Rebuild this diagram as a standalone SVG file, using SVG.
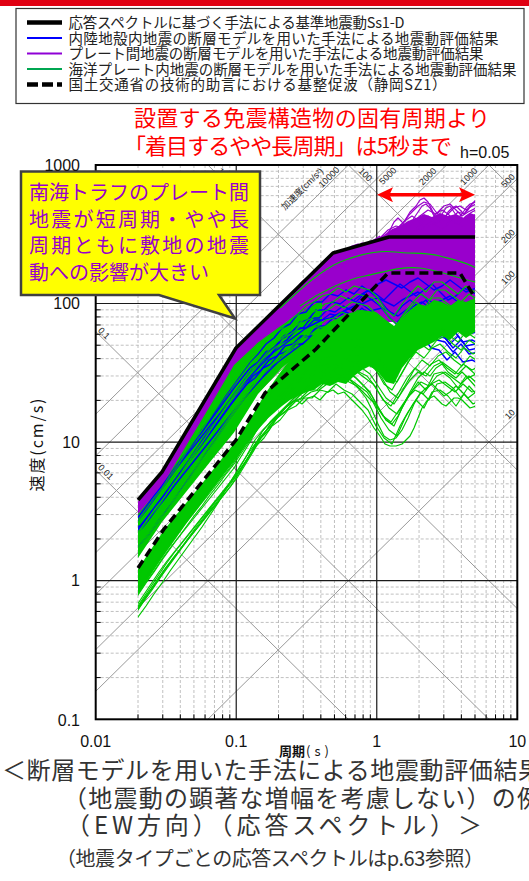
<svg xmlns="http://www.w3.org/2000/svg" width="529" height="881" viewBox="0 0 529 881">
<style>
.s{font-family:"Liberation Sans","Noto Sans CJK JP",sans-serif}
.j{font-family:"Noto Sans CJK JP","Liberation Sans",sans-serif}
.mn{fill:none;stroke:#b0b0b0;stroke-width:0.8;stroke-dasharray:3 2}
.mj{fill:none;stroke:#1a1a1a;stroke-width:1.2}
.tk{fill:none;stroke:#000;stroke-width:1}
.dg{fill:none;stroke:#999;stroke-width:1}
.lb{font-size:9px;fill:#222}
.pu{fill:none;stroke:#9900cc;stroke-width:1.2;stroke-linejoin:round}
.bu{fill:none;stroke:#0000ff;stroke-width:1.4;stroke-linejoin:round}
.gr{fill:none;stroke:#00c800;stroke-width:1.2;stroke-linejoin:round}
.num{font-size:16px;fill:#111}
.leg{font-size:14.5px;fill:#222}
.cap{fill:#333}
</style>
<defs>
<clipPath id="dc"><rect x="138" y="150" width="337" height="570"/></clipPath>
<marker id="ah" viewBox="0 0 16 15" refX="7" refY="7.5" markerWidth="16" markerHeight="15" markerUnits="userSpaceOnUse" orient="auto-start-reverse"><path d="M0,0 L16,7.5 L0,15 L3.5,7.5 Z" fill="#ff0000"/></marker>
<path id="U1" d="M122,556 L130,546 138,536 146,525 154,514 162,504 170,492 178,481 186,469 194,457 202,446 210,434 218,422 226,410 234,399 242,388 250,377 258,368 266,358 274,350 282,344 290,336 298,330 306,322 314,318 322,312 330,310 338,304 346,308 354,302 362,304 370,306 378,314 386,326 394,332 402,320 410,310 418,302 426,308 434,298 442,298 450,304 458,310 466,302 475,308 483,306 491,310"/>
<path id="B1" d="M122,552 L130,542 138,532 146,522 154,511 162,500 170,489 178,477 186,466 194,454 202,442 210,431 218,419 226,407 234,396 242,385 250,374 258,366 266,356 274,350 282,340 290,336 298,326 306,324 314,314 322,314 330,306 338,308 346,302 354,306 362,298 370,304 378,310 386,320 394,328 402,318 410,312 418,318 426,312 434,324 442,326 450,336 458,328 466,338 475,336 483,340 491,344"/>
<path id="bA" d="M122,525 L130,520 138,515 146,505 154,494 162,484 170,473 178,462 186,451 194,440 202,430 210,419 218,408 226,397 234,386 242,376 250,366 258,360 266,350 274,346 282,336 290,334 298,326 306,326 314,318 322,318 330,312 338,314 346,310 354,314 362,306 370,314 378,318 386,326 394,330 402,318 410,314 418,320 426,318 434,330 442,332 450,342 458,334 466,344 475,342 483,346 491,350"/>
<path id="bB" d="M122,530 L130,524 138,518 146,508 154,497 162,487 170,476 178,466 186,456 194,446 202,436 210,426 218,416 226,406 234,396 242,386 250,377 258,368 266,360 274,352 282,346 290,340 298,334 306,328 314,324 322,320 330,318 338,314 346,310 354,306 362,304 370,300 378,298 386,302 394,306 402,300 410,296 418,292 426,298 434,304 442,300 450,296 458,302 466,306 475,300 483,298 491,300"/>
<path id="L1" d="M122,612 L130,600 138,588 146,576 154,564 162,552 170,541 178,531 186,521 194,511 202,501 210,491 218,481 226,471 234,461 242,449 250,435 258,420 266,410 274,402 282,394 290,386 298,380 306,372 314,368 322,362 330,360 338,352 346,356 354,350 362,352 370,356 378,366 386,380 394,386 402,372 410,358 418,348 426,354 434,344 442,340 450,348 458,354 466,344 475,350 483,346 491,350"/>
<path id="L2" d="M122,625 L130,614 138,603 146,591 154,580 162,568 170,557 178,546 186,535 194,524 202,514 210,503 218,493 226,482 234,472 242,460 250,448 258,436 266,428 274,416 282,410 290,400 298,396 306,388 314,388 322,380 330,382 338,374 346,380 354,384 362,392 370,400 378,416 386,428 394,434 402,416 410,402 418,390 426,398 434,382 442,380 450,386 458,396 466,384 475,394 483,390 491,394"/>
<path id="L3" d="M122,622 L130,610 138,600 146,588 154,577 162,565 170,554 178,544 186,534 194,524 202,514 210,504 218,494 226,484 234,474 242,461 250,448 258,434 266,422 274,414 282,404 290,398 298,390 306,386 314,380 322,378 330,372 338,370 346,366 354,368 362,374 370,380 378,392 386,404 394,410 402,398 410,386 418,378 426,382 434,372 442,368 450,374 458,380 466,372 475,380 483,378 491,382"/>
</defs>
<rect width="529" height="881" fill="#fff"/>
<rect id="topbar" x="0" y="0" width="529" height="6" fill="#e00012"/>

<g id="legend">
<rect x="16" y="8.5" width="508" height="95" fill="#fff" stroke="#333" stroke-width="1.2"/>
<path d="M27,22.5H62" stroke="#000" stroke-width="4.5"/>
<path d="M27,38H62" stroke="#0000ff" stroke-width="2"/>
<path d="M27,53.5H62" stroke="#8f00d6" stroke-width="2"/>
<path d="M27,69H62" stroke="#00a651" stroke-width="2"/>
<path d="M27,84.5H62" stroke="#000" stroke-width="4.5" stroke-dasharray="11,4"/>
<text class="j leg" x="68.5" y="28" textLength="336">応答スペクトルに基づく手法による基準地震動Ss1-D</text>
<text class="j leg" x="68.5" y="43.5" textLength="430">内陸地殻内地震の断層モデルを用いた手法による地震動評価結果</text>
<text class="j leg" x="68.5" y="59" textLength="415">プレート間地震の断層モデルを用いた手法による地震動評価結果</text>
<text class="j leg" x="68.5" y="74.5" textLength="448">海洋プレート内地震の断層モデルを用いた手法による地震動評価結果</text>
<text class="j leg" x="68.5" y="90" textLength="378">国土交通省の技術的助言における基整促波（静岡SZ1）</text>
</g>

<g id="title">
<text class="j" x="134" y="125.5" font-size="22" fill="#ff0000" textLength="356">設置する免震構造物の固有周期より</text>
<text class="j" x="124" y="154" font-size="22" fill="#ff0000" textLength="328">「着目するやや長周期」は5秒まで</text>
<text class="s" x="460" y="158.3" font-size="16" fill="#111">h=0.05</text>
</g>

<g id="grid">
<path class="mn" d="M138,165V719.3M162.75,165V719.3M180.31,165V719.3M193.93,165V719.3M205.05,165V719.3M214.46,165V719.3M222.61,165V719.3M229.8,165V719.3M278.53,165V719.3M303.28,165V719.3M320.84,165V719.3M334.46,165V719.3M345.58,165V719.3M354.99,165V719.3M363.14,165V719.3M370.33,165V719.3M419.06,165V719.3M443.81,165V719.3M461.37,165V719.3M474.99,165V719.3M486.11,165V719.3M495.52,165V719.3M503.67,165V719.3M510.86,165V719.3"/>
<path class="mn" d="M95.7,677.58H517.3M95.7,653.17H517.3M95.7,635.85H517.3M95.7,622.42H517.3M95.7,611.45H517.3M95.7,602.17H517.3M95.7,594.13H517.3M95.7,587.04H517.3M95.7,538.98H517.3M95.7,514.57H517.3M95.7,497.25H517.3M95.7,483.82H517.3M95.7,472.85H517.3M95.7,463.57H517.3M95.7,455.53H517.3M95.7,448.44H517.3M95.7,400.38H517.3M95.7,375.97H517.3M95.7,358.65H517.3M95.7,345.22H517.3M95.7,334.25H517.3M95.7,324.97H517.3M95.7,316.93H517.3M95.7,309.84H517.3M95.7,261.78H517.3M95.7,237.37H517.3M95.7,220.05H517.3M95.7,206.62H517.3M95.7,195.65H517.3M95.7,186.37H517.3M95.7,178.33H517.3M95.7,171.24H517.3"/>
<path class="dg" d="M207.87,719.3L517.3,414.13M95.7,691.33L517.3,275.55M95.7,649.61L517.3,233.81M95.7,594.45L517.3,178.65M95.7,552.73L488.93,165M95.7,511.01L446.62,165M95.7,455.85L390.71,165M95.7,414.13L348.4,165M95.7,470.07L348.4,719.3M95.7,331.47L488.93,719.3M95.7,192.87L517.3,608.67M207.87,165L517.3,470.07M348.4,165L517.3,331.47M488.93,165L517.3,192.87"/>
<path class="mj" d="M236.23,165V719.3M376.76,165V719.3M95.7,580.7H517.3M95.7,442.1H517.3M95.7,303.5H517.3"/>
<path class="tk" d="M138,719.3v-5M162.75,719.3v-5M180.31,719.3v-5M193.93,719.3v-5M205.05,719.3v-5M214.46,719.3v-5M222.61,719.3v-5M229.8,719.3v-5M278.53,719.3v-5M303.28,719.3v-5M320.84,719.3v-5M334.46,719.3v-5M345.58,719.3v-5M354.99,719.3v-5M363.14,719.3v-5M370.33,719.3v-5M419.06,719.3v-5M443.81,719.3v-5M461.37,719.3v-5M474.99,719.3v-5M486.11,719.3v-5M495.52,719.3v-5M503.67,719.3v-5M510.86,719.3v-5M95.7,677.58h5M95.7,653.17h5M95.7,635.85h5M95.7,622.42h5M95.7,611.45h5M95.7,602.17h5M95.7,594.13h5M95.7,587.04h5M95.7,538.98h5M95.7,514.57h5M95.7,497.25h5M95.7,483.82h5M95.7,472.85h5M95.7,463.57h5M95.7,455.53h5M95.7,448.44h5M95.7,400.38h5M95.7,375.97h5M95.7,358.65h5M95.7,345.22h5M95.7,334.25h5M95.7,324.97h5M95.7,316.93h5M95.7,309.84h5M95.7,261.78h5M95.7,237.37h5M95.7,220.05h5M95.7,206.62h5M95.7,195.65h5M95.7,186.37h5M95.7,178.33h5M95.7,171.24h5"/>
</g>

<g id="grid-labels" class="s lb">
<text text-anchor="end" transform="translate(324,171.6) rotate(-45)">加速度(cm/s²)</text>
<text text-anchor="end" transform="translate(340,170.5) rotate(-45)">10000</text>
<text text-anchor="end" transform="translate(397,171) rotate(-45)">5000</text>
<text text-anchor="end" transform="translate(437,171.5) rotate(-45)">2000</text>
<text text-anchor="end" transform="translate(478,171.5) rotate(-45)">1000</text>
<text text-anchor="end" transform="translate(515.5,177.5) rotate(-45)">500</text>
<text text-anchor="end" transform="translate(515.5,233) rotate(-45)">200</text>
<text text-anchor="end" transform="translate(515.5,274.5) rotate(-45)">100</text>
<text text-anchor="end" transform="translate(515.5,413) rotate(-45)">10</text>
<text transform="translate(97.5,331) rotate(45)">0.1</text>
<text transform="translate(97.5,468) rotate(45)">0.01</text>
<text transform="translate(217,171.5) rotate(45)">10</text>
<text transform="translate(358,171.5) rotate(45)">100</text>
</g>

<g id="data" clip-path="url(#dc)">
<g id="plate-boundary">
<path fill="#9900cc" d="M138,501.5 L150,487.5 L162,473.5 L180,443 L200,410 L218,380 L236,349.5 L248,338 L258,328 L266,319 L274,311 L282,303 L290,295 L298,287 L306,279 L314,271 L322,264 L333,254.5 L342,251 L350,249 L358,246 L366,243 L376,239 L384,235 L392,229 L400,226 L408,221 L416,218 L424,214 L432,217 L440,213 L448,216 L456,214 L464,218 L470,213 L476,215 L476,332 L450,332 L420,322 L400,322 L377,322 L350,332 L330,330 L300,345 L282,358 L258,385 L236,420 L210,455 L190,485 L170,506 L155,515 L138,521 Z"/>
<path class="pu" d="M282,306 L288,298 294,292 300,284 304,280 308,282 312,276 318,270 324,266 330,260 336,256 342,252 346,250 352,246 358,244 364,246 370,242 376,240"/>
<path class="pu" d="M290,300 L296,290 302,286 306,288 312,280 318,276 322,272 328,264 334,260 340,258 346,254 350,250 356,248 362,243 368,244 374,240 380,236"/>
<path class="pu" d="M330,270 L338,266 346,262 354,258 362,256 370,252 378,248 386,240 394,232 402,224 410,214 418,206 424,202 430,204 436,212 442,218 448,214 454,208 460,206 466,210 472,206 476,204"/>
<path class="pu" d="M340,265 L350,258 360,252 370,246 380,238 388,230 396,226 404,228 412,224 420,216 428,210 436,214 444,206 450,204 456,210 462,216 468,212 476,208"/>
<path class="pu" d="M360,258 L370,252 380,244 390,236 398,232 406,236 414,232 422,228 430,226 438,222 446,216 454,222 462,226 470,218 476,214"/>
<path class="pu" d="M380,250 L386,244 392,238 398,234 404,240 410,236 416,230 422,222 428,216 434,222 440,230 446,226 452,218 458,212 464,214 470,206 476,200"/>
<path class="pu" d="M378,246 L384,238 390,230 394,222 398,218 402,222 406,228 410,226 414,218 418,212 422,206 426,204 430,208 434,216 438,220 442,214 446,208 450,206 454,212 458,218 462,214 466,208 470,204 476,202"/>
<path class="pu" d="M376,250 L382,244 388,236 394,230 400,226 406,220 412,216 418,220 424,226 430,222 436,214 442,210 448,214 454,220 460,222 466,216 472,212 476,210"/>
<path class="pu" d="M386,238 L392,232 398,228 404,222 410,212 416,206 420,200 424,198 428,202 432,210 436,218 440,224 444,220 448,212 452,208 456,206 460,210 464,214 468,210 472,204 476,200"/>
</g>
<g id="upper-mix">
<path fill="#00c800" d="M122,528 L138,514 L162,486 L186,446 L210,406 L234,365 L258,342.5 L282,325 L306,309.5 L322,300 L322,338 L306,347.6 L282,368 L258,394 L234,432.5 L210,462 L186,492 L162,522 L138,558 L122,580 Z"/>
</g>
<g id="crustal">
<use href="#B1" class="bu" transform="translate(0,-12)"/>
<use href="#B1" class="bu" transform="translate(2,-4)"/>
<use href="#B1" class="bu" transform="translate(-3,4)"/>
<use href="#B1" class="bu" transform="translate(3,12)"/>
<use href="#bA" class="bu" transform="translate(0,2)"/>
<use href="#bA" class="bu" transform="translate(3,10)"/>
<use href="#bA" class="bu" transform="translate(-3,18)"/>
<use href="#bB" class="bu" transform="translate(0,0)"/>
<use href="#bB" class="bu" transform="translate(4,10)"/>
<path class="bu" d="M354,300 L362,294 370,290 378,284 386,280 394,284 402,288 410,282 418,278 426,284 434,290 442,286 450,280 458,286 466,292 476,288"/>
<path class="bu" d="M360,296 L368,290 376,294 384,300 392,292 400,284 408,290 416,296 424,290 432,284 440,292 448,300 456,296 464,288 476,294"/>
</g>
<g id="intraslab">
<use href="#U1" class="gr" transform="translate(0,-16)"/>
<use href="#U1" class="gr" transform="translate(3,-8)"/>
<use href="#U1" class="gr" transform="translate(-2,0)"/>
<use href="#U1" class="gr" transform="translate(4,8)"/>
<use href="#U1" class="gr" transform="translate(-3,16)"/>
<path fill="#00c800" d="M122,592 L138,569 L164,530 L200,486 L236,441 L250,420 L265,394 L282,370 L298,350 L314,334 L330,322 L346,314 L362,310 L376,312 L386,320 L394,326 L402,318 L410,310 L418,304 L426,306 L434,300 L442,302 L450,306 L458,300 L466,302 L475,298 L491,300 L491,336 L475,332 L466,338 L458,332 L450,340 L442,336 L434,342 L426,346 L418,350 L410,358 L402,368 L394,384 L386,382 L378,372 L370,366 L362,370 L354,376 L346,384 L338,382 L330,386 L322,384 L314,390 L306,392 L298,396 L290,400 L282,406 L266,420 L250,440 L236,458 L210,492 L186,524 L162,558 L138,594 L122,616 Z"/>
<use href="#L1" class="gr" transform="translate(0,-12)"/>
<use href="#L1" class="gr" transform="translate(3,-4)"/>
<use href="#L1" class="gr" transform="translate(-2,4)"/>
<use href="#L1" class="gr" transform="translate(4,12)"/>
<use href="#L1" class="gr" transform="translate(-3,20)"/>
<use href="#L2" class="gr" transform="translate(0,-8)"/>
<use href="#L2" class="gr" transform="translate(3,2)"/>
<use href="#L2" class="gr" transform="translate(-2,10)"/>
<use href="#L3" class="gr" transform="translate(0,-6)"/>
<use href="#L3" class="gr" transform="translate(3,4)"/>
<use href="#L3" class="gr" transform="translate(-3,12)"/>
<path class="gr" d="M122,640 L130,628 138,617 146,606 154,594 162,583 170,571 178,560 186,549 194,538 202,527 210,515 218,503 226,489 234,476 242,463 250,451 258,440 266,431 274,420 282,412 290,403 296,400 302,404 308,398 314,396 320,400 326,393 333,390 338,394 344,392 350,398 356,404 362,410 368,418 374,428 380,436 385,444 390,446 396,446 402,444 406,440 410,436 414,428 418,418 422,408 426,402 430,398 434,396 438,400 442,404 446,406 450,402 454,398 458,398 462,400 466,404 470,408 476,406"/>
<path class="gr" d="M350,380 L358,388 366,398 372,410 378,424 384,436 390,440 396,438 402,430 408,418 414,404 420,394 426,388 432,384 438,390 444,396 450,392 456,386 462,392 468,398 476,392"/>
<path class="gr" d="M346,372 L356,378 364,386 372,396 380,410 386,420 392,424 398,416 404,404 410,392 418,378 424,372 430,376 436,368 442,364 448,372 456,378 462,372 468,378 476,374"/>
<path class="gr" d="M280,308 C300,290 318,272 340,262 C360,254 378,250 395,252 C412,254 425,252 440,256 C455,260 466,262 476,268"/>
<path class="gr" d="M300,306 C320,292 345,280 365,276 C385,272 400,266 420,268 C440,270 455,278 476,282"/>
</g>
</g>

<rect id="frame" x="95.7" y="165" width="421.6" height="554.3" fill="none" stroke="#000" stroke-width="2"/>

<g id="ss1d"><path d="M138,500 L162,472 L236,348 L333,253 L389,237 L475,237" fill="none" stroke="#000" stroke-width="3.5" stroke-linejoin="round"/></g>
<g id="sz1"><path d="M138,568 L164,529 L236,440 L265,393 L316,349 L388,273 L460,273 L475,298" fill="none" stroke="#000" stroke-width="3.5" stroke-dasharray="9,5"/></g>

<g id="connectors">
<path d="M386,194.7H466" fill="none" stroke="#ff0000" stroke-width="3.5" marker-start="url(#ah)" marker-end="url(#ah)"/>
</g>

<g id="callout">
<path d="M21,171.5 H260 V295 H219 L235,318.5 L159,295 H21 Z" fill="#ffff00" stroke="#404040" stroke-width="2.5" stroke-linejoin="miter"/>
<text class="j" font-size="20" fill="#9900cc" x="29" y="200" textLength="220">南海トラフのプレート間</text>
<text class="j" font-size="20" fill="#9900cc" x="29" y="226.7" textLength="220">地震が短周期・やや長</text>
<text class="j" font-size="20" fill="#9900cc" x="29" y="253.3" textLength="220">周期ともに敷地の地震</text>
<text class="j" font-size="20" fill="#9900cc" x="29" y="280">動への影響が大きい</text>
</g>

<g id="axis-labels" class="s num">
<text x="80" y="170.7" text-anchor="end">1000</text>
<text x="80" y="309.2" text-anchor="end">100</text>
<text x="80" y="447.8" text-anchor="end">10</text>
<text x="80" y="586.4" text-anchor="end">1</text>
<text x="80" y="726" text-anchor="end">0.1</text>
<text x="95.7" y="746.5" text-anchor="middle">0.01</text>
<text x="236.2" y="746.5" text-anchor="middle">0.1</text>
<text x="376.8" y="746.5" text-anchor="middle">1</text>
<text x="517.3" y="746.5" text-anchor="middle">10</text>
</g>
<text class="j" font-size="16" fill="#111" text-anchor="middle" transform="translate(43,445) rotate(-90)" textLength="93">速度(cm/s)</text>
<text class="j" font-size="13" fill="#111" x="279" y="756"><tspan font-weight="bold">周期</tspan><tspan x="306" letter-spacing="4">(s)</tspan></text>

<g id="caption" class="j cap">
<text x="2" y="779" font-size="24" textLength="540">＜断層モデルを用いた手法による地震動評価結果</text>
<text x="63" y="807" font-size="24" textLength="478">（地震動の顕著な増幅を考慮しない）の例</text>
<text x="66" y="833.5" font-size="24" textLength="416">（EW方向）（応答スペクトル）＞</text>
<text x="56" y="865.5" font-size="20" textLength="428">（地震タイプごとの応答スペクトルはp.63参照）</text>
</g>
</svg>
